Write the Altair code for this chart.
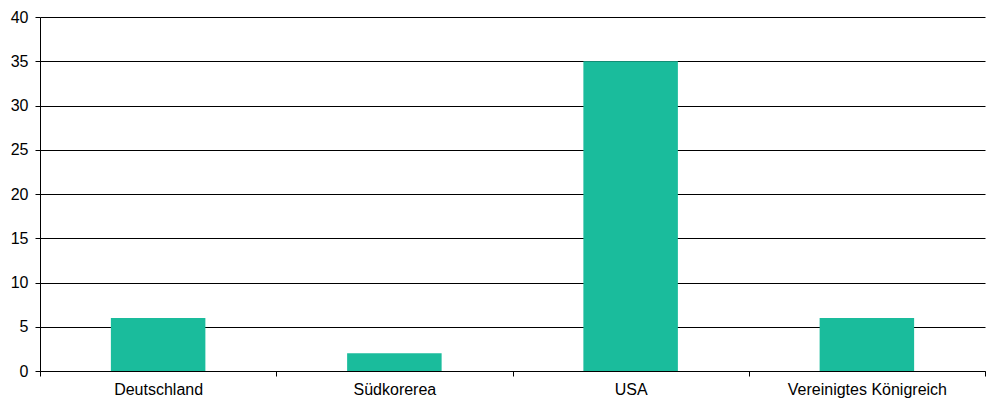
import altair as alt
import pandas as pd

categories = ["Deutschland", "Südkorerea", "USA", "Vereinigtes Königreich"]
values = [6, 2, 35, 6]

df = pd.DataFrame({"land": categories, "wert": values})

chart = alt.Chart(df).mark_bar(
    color="#1ABC9C", width=alt.RelativeBandSize(0.4)
).encode(
    x=alt.X("land:N", sort=categories, title=None,
            scale=alt.Scale(paddingInner=0, paddingOuter=0),
            axis=alt.Axis(labelAngle=0, tickBand="extent", tickSize=5,
                          tickColor="black", domainColor="black",
                          labelFont="Liberation Sans", labelFontSize=16,
                          labelColor="black", labelPadding=5, grid=False)),
    y=alt.Y("wert:Q", title=None,
            scale=alt.Scale(domain=[0, 40], nice=False),
            axis=alt.Axis(values=[0, 5, 10, 15, 20, 25, 30, 35, 40],
                          tickSize=5, tickColor="black", domainColor="black",
                          grid=True, gridColor="black", gridOpacity=1,
                          labelFont="Liberation Sans", labelFontSize=16,
                          labelColor="black", labelPadding=7)),
).properties(
    width=945, height=354,
    autosize=alt.AutoSizeParams(type="none"),
    padding={"left": 32, "top": 9, "right": 6, "bottom": 33},
).configure_view(stroke=None).configure_axis(domainWidth=1, tickWidth=1, gridWidth=1)

chart.save("out.html", embed_options={"renderer": "svg", "actions": False})
